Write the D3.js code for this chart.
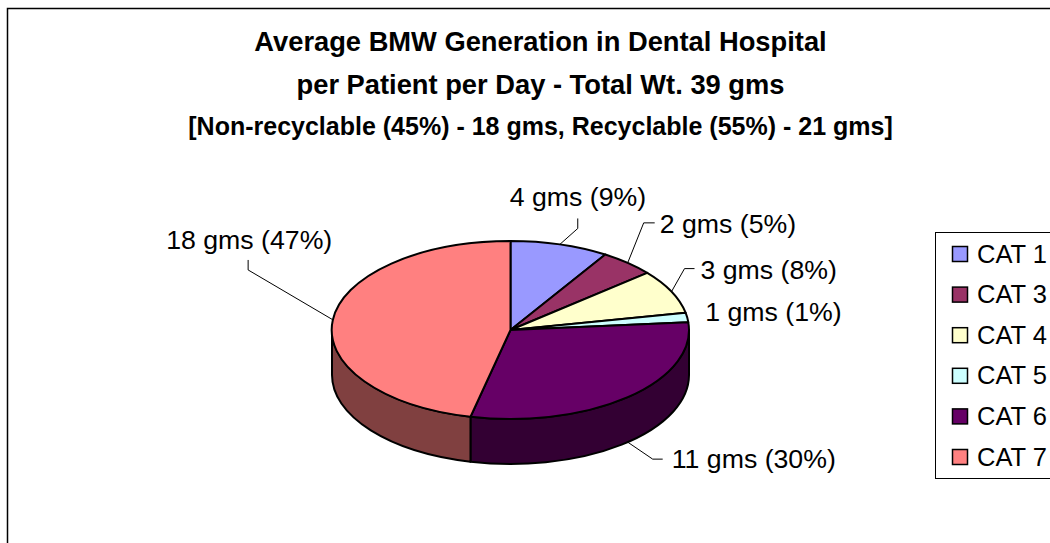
<!DOCTYPE html>
<html>
<head>
<meta charset="utf-8">
<script src="https://cdn.jsdelivr.net/npm/d3@7"></script>
<style>
html, body { margin: 0; padding: 0; background: #fff; overflow: hidden; }
text { font-family: "Liberation Sans", Arial, sans-serif; fill: #000; }
</style>
</head>
<body>
<div id="chart"></div>
<script>
const categories = ["CAT 1", "CAT 3", "CAT 4", "CAT 5", "CAT 6", "CAT 7"];
const sliceShares = [8.9, 5, 8, 1.7, 30, 46.4]; //as drawn, CAT 5 is a bit wider than its 1% label
const grams = [4, 2, 3, 1, 11, 18];
const labelPercents = [9, 5, 8, 1, 30, 47];
const topColors = ["#9999ff", "#993366", "#ffffcc", "#ccffff", "#660066", "#ff8080"];
const wallColors = ["#4d4d80", "#4d1a33", "#808066", "#668080", "#330033", "#804040"];
const titleLines = [
    "Average BMW Generation in Dental Hospital",
    "per Patient per Day - Total Wt. 39 gms",
    "[Non-recyclable (45%) - 18 gms, Recyclable (55%) - 21 gms]"
];

const width = 1050;
const height = 543;
const cx = 510.5;
const cy = 330;
const rx = 178.5;
const ry = 89;
const depth = 45;

const svg = d3.select("#chart")
    .append("svg")
    .attr("width", width)
    .attr("height", height)
    .style("display", "block");

//Chart frame, right and bottom run off the page
svg.append("rect")
    .attr("x", 7.5)
    .attr("y", 8.5)
    .attr("width", width + 20)
    .attr("height", height + 20)
    .attr("fill", "#fff")
    .attr("stroke", "#000")
    .attr("stroke-width", 1.5);

//Title
const titleStyle = [{y: 51, size: 27.3}, {y: 94, size: 27.3}, {y: 135, size: 25}];
svg.selectAll(".title")
    .data(titleLines)
    .join("text")
    .attr("class", "title")
    .attr("x", 540.5)
    .attr("y", (d, i) => titleStyle[i].y)
    .attr("text-anchor", "middle")
    .attr("font-weight", "bold")
    .attr("font-size", (d, i) => titleStyle[i].size + "px")
    .text(d => d);

//Pie layout, clockwise from 12 o'clock
const pie = d3.pie().sort(null).value(d => d.share);
const slices = pie(categories.map((c, i) => ({
    name: c, share: sliceShares[i], top: topColors[i], wall: wallColors[i],
    label: `${grams[i]} gms (${labelPercents[i]}%)`
})));

const xScale = d3.scaleLinear().domain([-1, 1]).range([cx - rx, cx + rx]);
const yScale = d3.scaleLinear().domain([-1, 1]).range([cy - ry, cy + ry]);
const rimX = a => xScale(Math.sin(a));
const rimY = a => yScale(-Math.cos(a));

//Walls, only the part between 3 and 9 o'clock faces us
const wallPath = d => {
    const a0 = Math.max(d.startAngle, Math.PI / 2);
    const a1 = Math.min(d.endAngle, 3 * Math.PI / 2);
    return `M${rimX(a0)},${rimY(a0)}`
        + `A${rx},${ry} 0 0 1 ${rimX(a1)},${rimY(a1)}`
        + `L${rimX(a1)},${rimY(a1) + depth}`
        + `A${rx},${ry} 0 0 0 ${rimX(a0)},${rimY(a0) + depth}Z`;
};
svg.selectAll(".wall")
    .data(slices.filter(d => d.endAngle > Math.PI / 2 && d.startAngle < 3 * Math.PI / 2))
    .join("path")
    .attr("class", "wall")
    .attr("d", wallPath)
    .attr("fill", d => d.data.wall)
    .attr("stroke", "#000")
    .attr("stroke-width", 2)
    .attr("stroke-linejoin", "round");

//Top face, a circle arc squashed into an ellipse
const arc = d3.arc().innerRadius(0).outerRadius(1);
svg.append("g")
    .attr("transform", `translate(${cx},${cy}) scale(${rx},${ry})`)
    .selectAll("path")
    .data(slices)
    .join("path")
    .attr("d", arc)
    .attr("fill", d => d.data.top)
    .attr("stroke", "#000")
    .attr("stroke-width", 2)
    .attr("stroke-linejoin", "round")
    .attr("vector-effect", "non-scaling-stroke");

//Leader lines and labels, offsets are from the rim point at the middle of each slice
const labelLayout = [
    {elbow: [[18, -16], [18, -26]], text: [-50, -38]},
    {elbow: [[16, -40], [27, -40]], text: [32, -30]},
    {elbow: [[13, -23], [23, -23]], text: [29, -13]},
    {elbow: null, text: [18, 4]},
    {elbow: [[25, 17], [35, 17]], text: [44, 26]},
    {elbow: [[-85, -50], [-85, -60]], text: [-167, -71]}
];
const midAngle = d => (d.startAngle + d.endAngle) / 2;
const anchor = d => {
    const a = midAngle(d);
    const onWall = a > Math.PI / 2 && a < 3 * Math.PI / 2;
    return [rimX(a), rimY(a) + (onWall ? depth : 0)];
};
const leader = d3.line();
svg.selectAll(".leader")
    .data(slices.filter((d, i) => labelLayout[i].elbow))
    .join("path")
    .attr("class", "leader")
    .attr("fill", "none")
    .attr("stroke", "#000")
    .attr("stroke-width", 1)
    .attr("d", d => {
        const p = anchor(d);
        const pts = labelLayout[d.index].elbow.map(o => [p[0] + o[0], p[1] + o[1]]);
        return leader([p, ...pts]);
    });
svg.selectAll(".slice-label")
    .data(slices)
    .join("text")
    .attr("class", "slice-label")
    .attr("x", d => anchor(d)[0] + labelLayout[d.index].text[0])
    .attr("y", d => anchor(d)[1] + labelLayout[d.index].text[1])
    .attr("font-size", "26.7px")
    .text(d => d.data.label);

//Legend, also cut off by the right edge
const legendY = d3.scalePoint()
    .domain(categories)
    .range([254, 457]);
svg.append("rect")
    .attr("x", 935.5)
    .attr("y", 232.5)
    .attr("width", 140)
    .attr("height", 246)
    .attr("fill", "#fff")
    .attr("stroke", "#000")
    .attr("stroke-width", 1);
const legendRow = svg.selectAll(".legend-row")
    .data(categories)
    .join("g")
    .attr("class", "legend-row")
    .attr("transform", d => `translate(0,${legendY(d)})`);
legendRow.append("rect")
    .attr("x", 952.5)
    .attr("y", -7.5)
    .attr("width", 15)
    .attr("height", 15)
    .attr("fill", (d, i) => topColors[i])
    .attr("stroke", "#000")
    .attr("stroke-width", 1.5);
legendRow.append("text")
    .attr("x", 977)
    .attr("y", 8.5)
    .attr("font-size", "25.5px")
    .text(d => d);
</script>
</body>
</html>
